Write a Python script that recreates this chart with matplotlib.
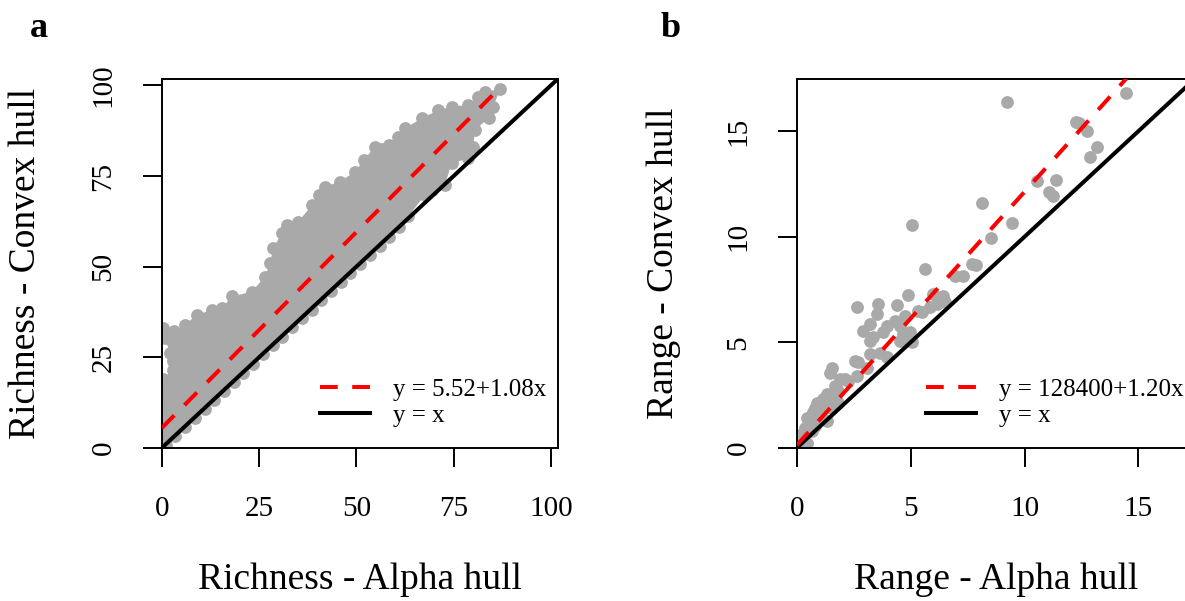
import numpy as np
import matplotlib
matplotlib.use('Agg')
import matplotlib.pyplot as plt
from matplotlib.lines import Line2D

plt.rcParams['font.family'] = ['Liberation Serif', 'DejaVu Serif']

# richness: outline of the dense cloud of sites (upper edge, left to right)
rich_up_x = [0.0, 0.3, 2.8, 3.0, 2.1, 0.85, 0.4, 3.2, 6.0, 9.0, 12.9, 15.5, 18.0, 23.1, 26.6,
             27.8, 28.7, 30.8, 32.1, 35.1, 38.6, 40.3, 42.0, 45.8, 49.7, 52.0, 54.8, 56.5,
             58.3, 60.8, 62.5, 66.8, 71.1, 74.5, 78.8, 81.4, 83.1, 87.0]
rich_up_y = [0.5, 19.0, 21.5, 24.0, 26.2, 30.3, 33.0, 32.3, 34.0, 36.7, 38.1, 38.6, 41.8, 43.1, 47.3,
             51.0, 55.1, 59.2, 61.5, 62.4, 67.0, 69.8, 72.1, 73.5, 76.2, 79.5, 83.1, 82.5,
             83.6, 85.9, 88.2, 90.9, 93.2, 94.2, 94.6, 96.9, 98.3, 99.0]
# lower/right edge, top to bottom
rich_lo_x = [85.2, 84.0, 80.5, 80.1, 78.8, 74.5, 72.8, 69.4, 67.7, 63.4, 61.0, 58.5, 56.0, 53.5,
             51.0, 48.5, 46.0, 43.5, 41.0, 38.5, 36.0, 33.5, 31.0, 28.5, 26.0, 23.5, 21.0,
             18.5, 16.0, 13.5, 11.0, 8.5, 6.0, 3.5, 1.0]
rich_lo_y = [94.2, 91.0, 87.7, 83.1, 79.9, 78.5, 72.6, 71.2, 69.8, 64.0, 60.9, 58.3, 55.8, 53.2,
             50.8, 48.3, 45.7, 43.3, 40.8, 38.2, 35.8, 33.3, 30.7, 28.3, 25.8, 23.2, 20.8,
             18.3, 15.8, 13.2, 10.8, 8.3, 5.8, 3.3, 0.9]
rich_fit = (5.52, 1.08)

# range sizes (10^6 units)
range_alpha = [0.14, 0.22, 0.29, 0.36, 0.44, 0.44, 0.58, 0.66, 0.73, 0.80,
               0.80, 0.88, 1.10, 1.10, 1.17, 1.24, 1.32, 1.32, 1.46, 1.46,
               1.54, 1.54, 1.68, 1.75, 1.75, 1.90, 2.12, 2.26, 2.56, 2.63,
               2.63, 2.70, 2.92, 3.07, 3.21, 3.21, 3.21, 3.36, 3.51, 3.58,
               3.65, 3.80, 3.95, 3.95, 4.31, 4.39, 4.53, 4.53, 4.68, 4.75,
               4.90, 4.97, 5.04, 5.04, 5.33, 5.48, 5.63, 5.85, 5.99, 6.14,
               6.43, 6.50, 6.94, 7.31, 7.68, 7.89, 8.14, 8.52, 9.21, 9.47,
               10.53, 11.08, 11.23, 11.36, 12.28, 12.40, 12.76, 12.86, 13.16, 14.47]
range_convex = [0.41, 0.65, 0.18, 0.96, 0.25, 1.44, 1.44, 0.81, 1.68, 1.91,
                1.04, 2.15, 1.84, 1.44, 2.31, 1.91, 2.55, 1.28, 2.39, 3.57,
                1.91, 3.81, 2.94, 2.79, 2.23, 3.26, 3.26, 3.18, 4.13, 6.66,
                3.42, 4.05, 5.55, 3.81, 5.87, 5.08, 4.45, 5.24, 6.35, 6.82,
                4.52, 5.47, 5.79, 4.29, 6.03, 6.77, 5.79, 5.08, 5.40, 6.26,
                7.25, 5.47, 5.00, 10.58, 6.50, 6.42, 8.48, 6.66, 7.29, 6.82,
                7.21, 6.90, 8.16, 8.16, 8.72, 8.64, 11.61, 9.95, 16.36, 10.65,
                12.62, 12.12, 11.93, 12.70, 15.44, 15.40, 15.00, 13.78, 14.25, 16.79]
range_fit = (128400, 1.20)
range_unit = 1e6

grey = '#a9a9a9'
dash = (0, (4.4, 3.6))
lw = 2.9
dot = 85

fig = plt.figure(figsize=(11.85, 6.01), dpi=100)
ax1 = fig.add_axes([0.1365, 0.2546, 0.3342, 0.6140])
ax2 = fig.add_axes([0.6723, 0.2546, 0.3359, 0.6140])


def style(ax, lim, ticks):
    ax.set_xlim(0, lim)
    ax.set_ylim(0, lim)
    ax.set_xticks(ticks)
    ax.set_yticks(ticks)
    for s in ax.spines.values():
        s.set_linewidth(1.4)
    ax.tick_params(length=13.5, width=1.4, labelsize=21)
    ax.tick_params(axis='x', pad=21)
    ax.tick_params(axis='y', pad=19)
    for lab in ax.get_yticklabels():
        lab.set_rotation(90)
        lab.set_va('center')
        lab.set_ha('right')


# a: richness
ox = np.r_[rich_up_x, rich_lo_x]
oy = np.r_[rich_up_y, rich_lo_y]
ax1.fill(ox, oy, color=grey, lw=0, zorder=1)
ax1.scatter(ox, oy, s=dot, color=grey, lw=0, zorder=1)
ax1.axline((0, 0), slope=1, color='black', lw=lw, zorder=3)
xf = np.array([0, max(rich_up_x)])
ax1.plot(xf, rich_fit[0] + rich_fit[1] * xf, color='red', lw=lw, ls=dash, zorder=4)
style(ax1, 101.8, [0, 25, 50, 75, 100])
ax1.set_xlabel('Richness - Alpha hull', fontsize=27)
ax1.set_ylabel('Richness - Convex hull', fontsize=27)
ax1.xaxis.set_label_coords(0.5, -0.31)
ax1.yaxis.set_label_coords(-0.30, 0.5)
h1 = [Line2D([], [], color='red', lw=lw, ls=dash), Line2D([], [], color='black', lw=lw)]
ax1.legend(h1, ['y = %.2f+%.2fx' % rich_fit, 'y = x'], loc='center left',
           bbox_to_anchor=(0.40, 0.123), frameon=False, fontsize=18, handlelength=2.0,
           handletextpad=0.9, labelspacing=0.15, borderpad=0, borderaxespad=0)

# b: range
ax2.scatter(range_alpha, range_convex, s=dot, color=grey, lw=0, zorder=1)
ax2.axline((0, 0), slope=1, color='black', lw=lw, zorder=3)
xf = np.array([0, max(range_alpha)])
ax2.plot(xf, range_fit[0] / range_unit + range_fit[1] * xf, color='red', lw=lw, ls=dash, zorder=4)
style(ax2, 17.47, [0, 5, 10, 15])
ax2.set_xlabel('Range - Alpha hull', fontsize=27)
ax2.set_ylabel('Range - Convex hull', fontsize=27)
ax2.xaxis.set_label_coords(0.5, -0.31)
ax2.yaxis.set_label_coords(-0.29, 0.5)
h2 = [Line2D([], [], color='red', lw=lw, ls=dash), Line2D([], [], color='black', lw=lw)]
ax2.legend(h2, ['y = %d+%.2fx' % range_fit, 'y = x'], loc='center left',
           bbox_to_anchor=(0.325, 0.123), frameon=False, fontsize=18, handlelength=2.0,
           handletextpad=0.9, labelspacing=0.15, borderpad=0, borderaxespad=0)

fig.text(39 / 1185, 1 - 37 / 601, 'a', fontsize=26, fontweight='bold', ha='center', va='baseline')
fig.text(671 / 1185, 1 - 37 / 601, 'b', fontsize=26, fontweight='bold', ha='center', va='baseline')

fig.savefig('out.png', dpi=100)
